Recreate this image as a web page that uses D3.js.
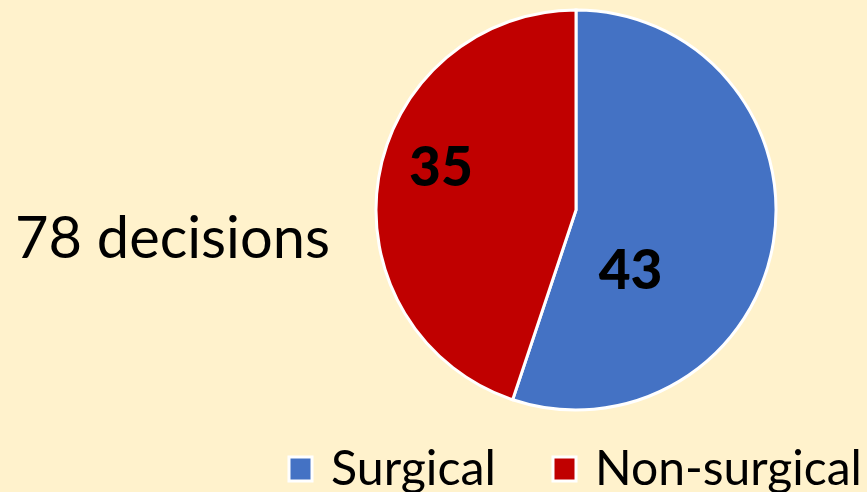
<!DOCTYPE html>
<html>
<head>
<meta charset="utf-8">
<script src="https://cdn.jsdelivr.net/npm/d3@7"></script>
<style>
  html, body { margin: 0; padding: 0; background: #FFF2CC; overflow: hidden; }
  svg { display: block; }
  text { font-family: Lato, "Open Sans", sans-serif; fill: #000; }
</style>
</head>
<body>
<div id="chart"></div>
<script>
var categories = ["Surgical", "Non-surgical"];
var values = [43, 35];
var colors = ["#4472C4", "#C00000"];
var totalLabel = "78 decisions";

function pieChart() {
  var self = this;
  var width = 867, height = 492;
  var cx = 576, cy = 210, radius = 200;

  // fit a text node to a target width by adjusting its font size
  function fitWidth(sel, target) {
    var w = sel.node().getComputedTextLength();
    var fs = parseFloat(sel.attr("font-size"));
    sel.attr("font-size", fs * target / w);
  }

  this.init = function() {
    self.svg = d3.select("#chart").append("svg")
      .attr("width", width).attr("height", height);
    self.svg.append("rect")
      .attr("width", width).attr("height", height)
      .attr("fill", "#FFF2CC");
    self.drawPie();
    self.drawTitle();
    self.drawLegend();
  };

  this.drawPie = function() {
    var pie = d3.pie().sort(null).value(function(d) { return d; });
    var arc = d3.arc().innerRadius(0).outerRadius(radius);
    var arcs = pie(values);

    var g = self.svg.append("g")
      .attr("transform", "translate(" + cx + "," + cy + ")");

    g.selectAll("path.slice")
      .data(arcs)
      .enter().append("path")
      .attr("class", "slice")
      .attr("d", arc)
      .attr("fill", function(d, i) { return colors[i]; })
      .attr("stroke", "#fff")
      .attr("stroke-width", 3)
      .attr("stroke-linejoin", "miter");

    // label placement (angle in degrees clockwise from top, distance as share of radius)
    var labelPos = [{ a: 137, k: 0.40 }, { a: 288, k: 0.71 }];
    g.selectAll("text.value")
      .data(arcs)
      .enter().append("text")
      .attr("class", "value")
      .attr("font-weight", 900)
      .attr("font-size", 55)
      .attr("text-anchor", "middle")
      .attr("x", function(d, i) { return Math.sin(labelPos[i].a * Math.PI / 180) * radius * labelPos[i].k; })
      .attr("y", function(d, i) { return -Math.cos(labelPos[i].a * Math.PI / 180) * radius * labelPos[i].k + 20; })
      .text(function(d) { return d.data; });
  };

  this.drawTitle = function() {
    var t = self.svg.append("text")
      .attr("x", 15).attr("y", 258)
      .attr("font-size", 58)
      .text(totalLabel);
    fitWidth(t, 315);
  };

  this.drawLegend = function() {
    var items = [{ x: 289, tx: 331, tw: 165 }, { x: 553, tx: 595, tw: 267 }];
    var lg = self.svg.append("g").attr("class", "legend");
    categories.forEach(function(c, i) {
      lg.append("rect")
        .attr("x", items[i].x).attr("y", 457)
        .attr("width", 23).attr("height", 24)
        .attr("fill", colors[i])
        .attr("stroke", "#fff")
        .attr("stroke-width", 3);
      var t = lg.append("text")
        .attr("x", items[i].tx).attr("y", 485)
        .attr("font-size", 52)
        .text(c);
      fitWidth(t, items[i].tw);
    });
  };

  this.init();
}

var chart = new pieChart();
</script>
</body>
</html>
